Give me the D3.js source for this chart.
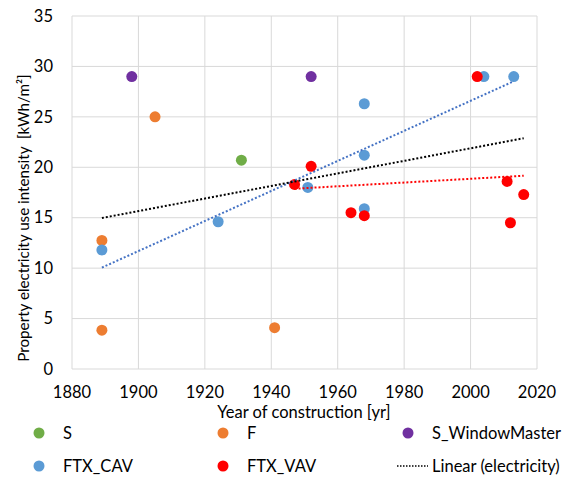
<!DOCTYPE html>
<html lang="en">
<head>
<meta charset="UTF-8">
<title>Property electricity use intensity</title>
<script src="https://d3js.org/d3.v7.min.js"></script>
<style>
  body { margin: 0; background: #fff; }
  text { font-family: Lato, "Open Sans", sans-serif; fill: #000; }
</style>
</head>
<body>
<div id="chart"></div>
<script>
// data: year of construction and electricity intensity
const sYears = [1931];
const sValues = [20.7];
const fYears = [1905, 1889, 1889, 1941];
const fValues = [25.0, 12.75, 3.85, 4.1];
const wmYears = [1898, 1952];
const wmValues = [29.0, 29.0];
const cavYears = [1889, 1924, 1951, 1968, 1968, 1968, 2004, 2013];
const cavValues = [11.8, 14.6, 18.0, 26.3, 21.2, 15.9, 29.0, 29.0];
const vavYears = [1947, 1952, 1964, 1968, 2002, 2011, 2012, 2016];
const vavValues = [18.3, 20.1, 15.5, 15.2, 29.0, 18.6, 14.5, 17.3];

const xTicks = [1880, 1900, 1920, 1940, 1960, 1980, 2000, 2020];
const yTicks = [0, 5, 10, 15, 20, 25, 30, 35];

const series = [
  { name: "S", years: sYears, values: sValues, color: "#70AD47" },
  { name: "F", years: fYears, values: fValues, color: "#ED7D31" },
  { name: "S_WindowMaster", years: wmYears, values: wmValues, color: "#7030A0" },
  { name: "FTX_CAV", years: cavYears, values: cavValues, color: "#5B9BD5" },
  { name: "FTX_VAV", years: vavYears, values: vavValues, color: "#FF0000" }
];

const width = 573, height = 477;
const margin = { left: 72, right: 36, top: 16, bottom: 108 };
const fs = "16.5px";

const svg = d3.select("#chart").append("svg")
  .attr("width", width)
  .attr("height", height);

const x = d3.scaleLinear().domain([1880, 2020]).range([margin.left, width - margin.right]);
const y = d3.scaleLinear().domain([0, 35]).range([height - margin.bottom, margin.top]);

// grid
const grid = svg.append("g").attr("stroke", "#D9D9D9").attr("stroke-width", 1);
grid.selectAll(".gx").data(xTicks).join("line")
  .attr("x1", d => x(d)).attr("x2", d => x(d))
  .attr("y1", y(0)).attr("y2", y(35));
grid.selectAll(".gy").data(yTicks).join("line")
  .attr("x1", x(1880)).attr("x2", x(2020))
  .attr("y1", d => y(d)).attr("y2", d => y(d));

// tick labels
svg.append("g").selectAll("text").data(xTicks).join("text")
  .attr("x", d => x(d)).attr("y", y(0) + 29)
  .attr("text-anchor", "middle")
  .style("font-size", fs)
  .text(d => d);
svg.append("g").selectAll("text").data(yTicks).join("text")
  .attr("x", x(1880) - 19).attr("y", d => y(d)).attr("dy", "0.35em")
  .attr("text-anchor", "end")
  .style("font-size", fs)
  .text(d => d);

// points
series.forEach(s => {
  svg.append("g").selectAll("circle").data(s.years).join("circle")
    .attr("cx", d => x(d))
    .attr("cy", (d, i) => y(s.values[i]))
    .attr("r", 5.5)
    .attr("fill", s.color);
});

// least squares trend over a set of points, drawn between min and max x
function trend(xs, ys) {
  const mx = d3.mean(xs), my = d3.mean(ys);
  const sxy = d3.sum(xs, (d, i) => (d - mx) * (ys[i] - my));
  const sxx = d3.sum(xs, d => (d - mx) * (d - mx));
  const b = sxy / sxx, a = my - b * mx;
  const ext = d3.extent(xs);
  return ext.map(v => [v, a + b * v]);
}

const allYears = [].concat(...series.map(s => s.years));
const allValues = [].concat(...series.map(s => s.values));

const trendLines = [
  { pts: trend(cavYears, cavValues), color: "#4472C4" },
  { pts: trend(vavYears, vavValues), color: "#FF0000" },
  { pts: trend(allYears, allValues), color: "#000000" }
];

const line = d3.line().x(d => x(d[0])).y(d => y(d[1]));
svg.append("g").selectAll("path").data(trendLines).join("path")
  .attr("d", d => line(d.pts))
  .attr("fill", "none")
  .attr("stroke", d => d.color)
  .attr("stroke-width", 2)
  .attr("stroke-dasharray", "2,2");

// axis titles
svg.append("text")
  .attr("x", 304).attr("y", y(0) + 49)
  .attr("text-anchor", "middle")
  .style("font-size", fs)
  .text("Year of construction [yr]");

svg.append("text")
  .attr("transform", `translate(29, 218) rotate(-90)`)
  .attr("text-anchor", "middle")
  .style("font-size", "15.2px")
  .style("white-space", "pre")
  .text("Property electricity use intensity  [kWh/m²]");

// legend
const legendItems = [
  { name: "S", color: "#70AD47", col: 0, row: 0 },
  { name: "F", color: "#ED7D31", col: 1, row: 0 },
  { name: "S_WindowMaster", color: "#7030A0", col: 2, row: 0 },
  { name: "FTX_CAV", color: "#5B9BD5", col: 0, row: 1 },
  { name: "FTX_VAV", color: "#FF0000", col: 1, row: 1 },
  { name: "Linear (electricity)", color: "#000000", col: 2, row: 1, line: true }
];
const colX = [39, 223, 408];
const rowY = [433, 466];

const lg = svg.append("g").selectAll("g").data(legendItems).join("g")
  .attr("transform", d => `translate(${colX[d.col]}, ${rowY[d.row]})`);
lg.filter(d => !d.line).append("circle")
  .attr("r", 5.5).attr("fill", d => d.color);
lg.filter(d => d.line).append("line")
  .attr("x1", -11).attr("x2", 20)
  .attr("stroke", d => d.color).attr("stroke-width", 1.5)
  .attr("stroke-dasharray", "1.5,1.5");
lg.append("text")
  .attr("x", 24).attr("dy", "0.35em")
  .style("font-size", fs)
  .text(d => d.name);
</script>
</body>
</html>
